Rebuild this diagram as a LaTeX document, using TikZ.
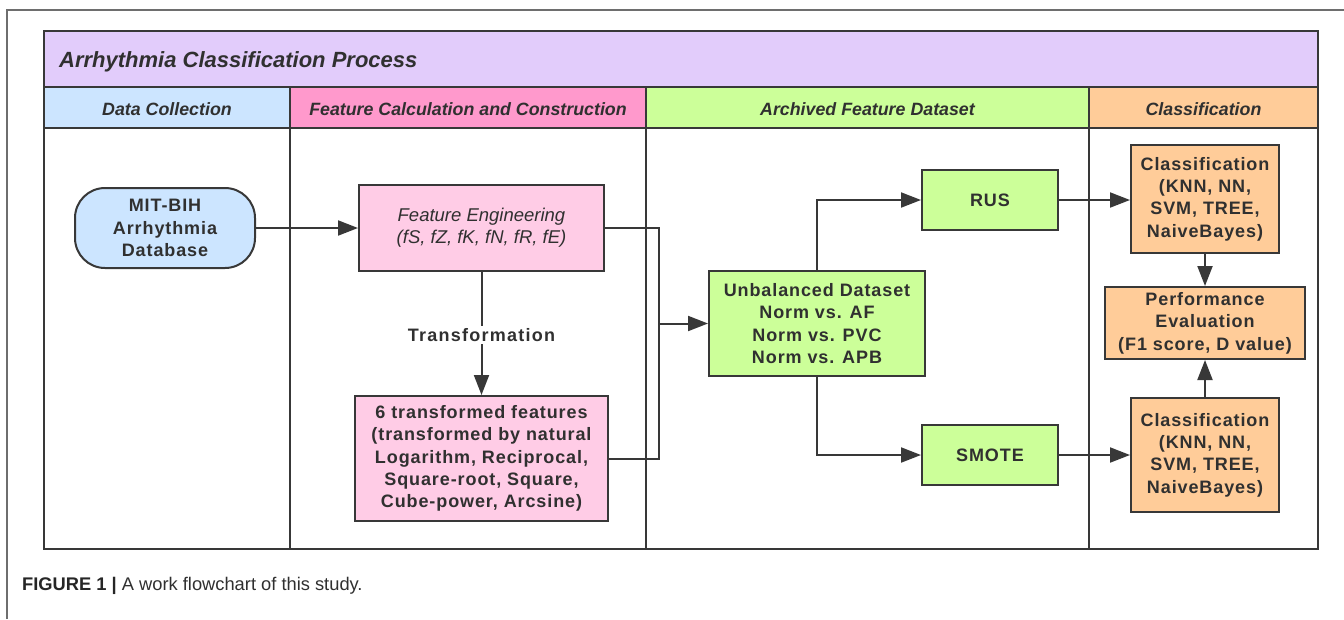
\documentclass[tikz,border=0pt]{standalone}
\usepackage{fontspec}
\setmainfont{Liberation Sans}
\newfontfamily\boxfont[LetterSpace=5]{Liberation Sans}
\newfontfamily\labfont[LetterSpace=7]{Liberation Sans}
\usetikzlibrary{arrows.meta}
\definecolor{lc}{HTML}{383838}
\definecolor{tc}{HTML}{303030}
\definecolor{framec}{HTML}{6E6E6E}
\definecolor{titlec}{HTML}{E2CCFB}
\definecolor{dcc}{HTML}{CCE5FF}
\definecolor{fcc}{HTML}{FF99CC}
\definecolor{afc}{HTML}{CCFF99}
\definecolor{clc}{HTML}{FFCC99}
\definecolor{pinkbox}{HTML}{FFCCE6}
\begin{document}
\begin{tikzpicture}[x=1pt,y=-1pt,
  boxbase/.style={draw=lc, line width=2pt, inner sep=0pt, align=center, text=tc,
    font=\boxfont\fontsize{18}{22.4}\selectfont\bfseries},
  header/.style={text=tc, inner sep=0pt, font=\fontsize{17.8}{20}\selectfont\bfseries\itshape},
  conn/.style={draw=lc, line width=2pt},
  arr/.style={conn, -{Triangle[length=20pt,width=15pt]}},
  sep/.style={draw=lc, line width=2pt}
]
\useasboundingbox (0,0) rectangle (1344,619);
\fill[white] (0,0) rectangle (1344,619);
% outer frame of figure
\draw[framec, line width=1.3pt] (7,619) -- (7,10) -- (1344,10);
% bands
\fill[titlec] (44,31) rectangle (1318,87);
\fill[dcc] (44,87) rectangle (290,128);
\fill[fcc] (290,87) rectangle (646,128);
\fill[afc] (646,87) rectangle (1089,128);
\fill[clc] (1089,87) rectangle (1318,128);
\draw[sep] (44,87) -- (1318,87);
\draw[sep] (44,128) -- (1318,128);
\draw[sep] (290,87) -- (290,549);
\draw[sep] (646,87) -- (646,549);
\draw[sep] (1089,87) -- (1089,549);
\draw[lc, line width=2.5pt] (44,31) rectangle (1318,549);
% title and headers
\node[text=tc, inner sep=0pt, anchor=west, font=\fontsize{22}{26}\selectfont\bfseries\itshape] (title) at (59,62) {Arrhythmia Classification Process};
\node[header] (h1) at (167,109) {Data Collection};
\node[header] (h2) at (468,109) {Feature Calculation and Construction};
\node[header] (h3) at (867.5,109) {Archived Feature Dataset};
\node[header] (h4) at (1203.5,109) {Classification};
% nodes
\node[boxbase, fill=dcc, rounded corners=30pt, minimum width=180pt, minimum height=80pt] (mit) at (165,228) {MIT-BIH\\Arrhythmia\\Database};
\node[boxbase, fill=pinkbox, minimum width=245pt, minimum height=86pt, font=\fontsize{18.5}{22}\selectfont\itshape] (fe) at (481.5,228) {Feature Engineering\\(fS, fZ, fK, fN, fR, fE)};
\node[boxbase, fill=pinkbox, minimum width=253pt, minimum height=125pt] (tf) at (481.5,458.5) {6 transformed features\\(transformed by natural\\Logarithm, Reciprocal,\\Square-root, Square,\\Cube-power, Arcsine)};
\node[boxbase, fill=afc, minimum width=216pt, minimum height=105pt] (ub) at (817,323.5) {Unbalanced Dataset\\Norm vs. AF\\Norm vs. PVC\\Norm vs. APB};
\node[boxbase, fill=afc, minimum width=136pt, minimum height=60pt] (rus) at (990,200) {RUS};
\node[boxbase, fill=afc, minimum width=136pt, minimum height=60pt] (smote) at (990,455) {SMOTE};
\node[boxbase, fill=clc, minimum width=148pt, minimum height=108pt] (c1) at (1205,199) {Classification\\(KNN, NN,\\SVM, TREE,\\NaiveBayes)};
\node[boxbase, fill=clc, minimum width=200pt, minimum height=72pt] (perf) at (1205,323) {Performance\\Evaluation\\(F1 score, D value)};
\node[boxbase, fill=clc, minimum width=148pt, minimum height=114pt] (c2) at (1205,455) {Classification\\(KNN, NN,\\SVM, TREE,\\NaiveBayes)};
% connectors
\draw[arr] (mit.east) -- (fe.west);
\draw[arr] (fe.south) -- (tf.north);
\node[fill=white, inner sep=2pt, text=tc, font=\labfont\fontsize{18}{22}\selectfont\bfseries] (tlab) at (481.5,335) {Transformation};
\coordinate (j) at (659,323.5);
\draw[conn] (fe.east) -| (j) |- (tf.east);
\draw[arr] (j) -- (ub.west);
\draw[arr] (ub.north) |- (rus.west);
\draw[arr] (ub.south) |- (smote.west);
\draw[arr] (rus.east) -- (rus.east -| c1.west);
\draw[arr] (smote.east) -- (smote.east -| c2.west);
\draw[arr] (c1.south) -- (perf.north);
\draw[arr] (c2.north) -- (perf.south);
% caption
\node[anchor=base west, inner sep=0pt, text=tc, font=\fontsize{18.3}{22}\selectfont] (cap) at (22,590) {\textbf{\color{black!85}FIGURE 1 |} A work flowchart of this study.};
\end{tikzpicture}
\end{document}
